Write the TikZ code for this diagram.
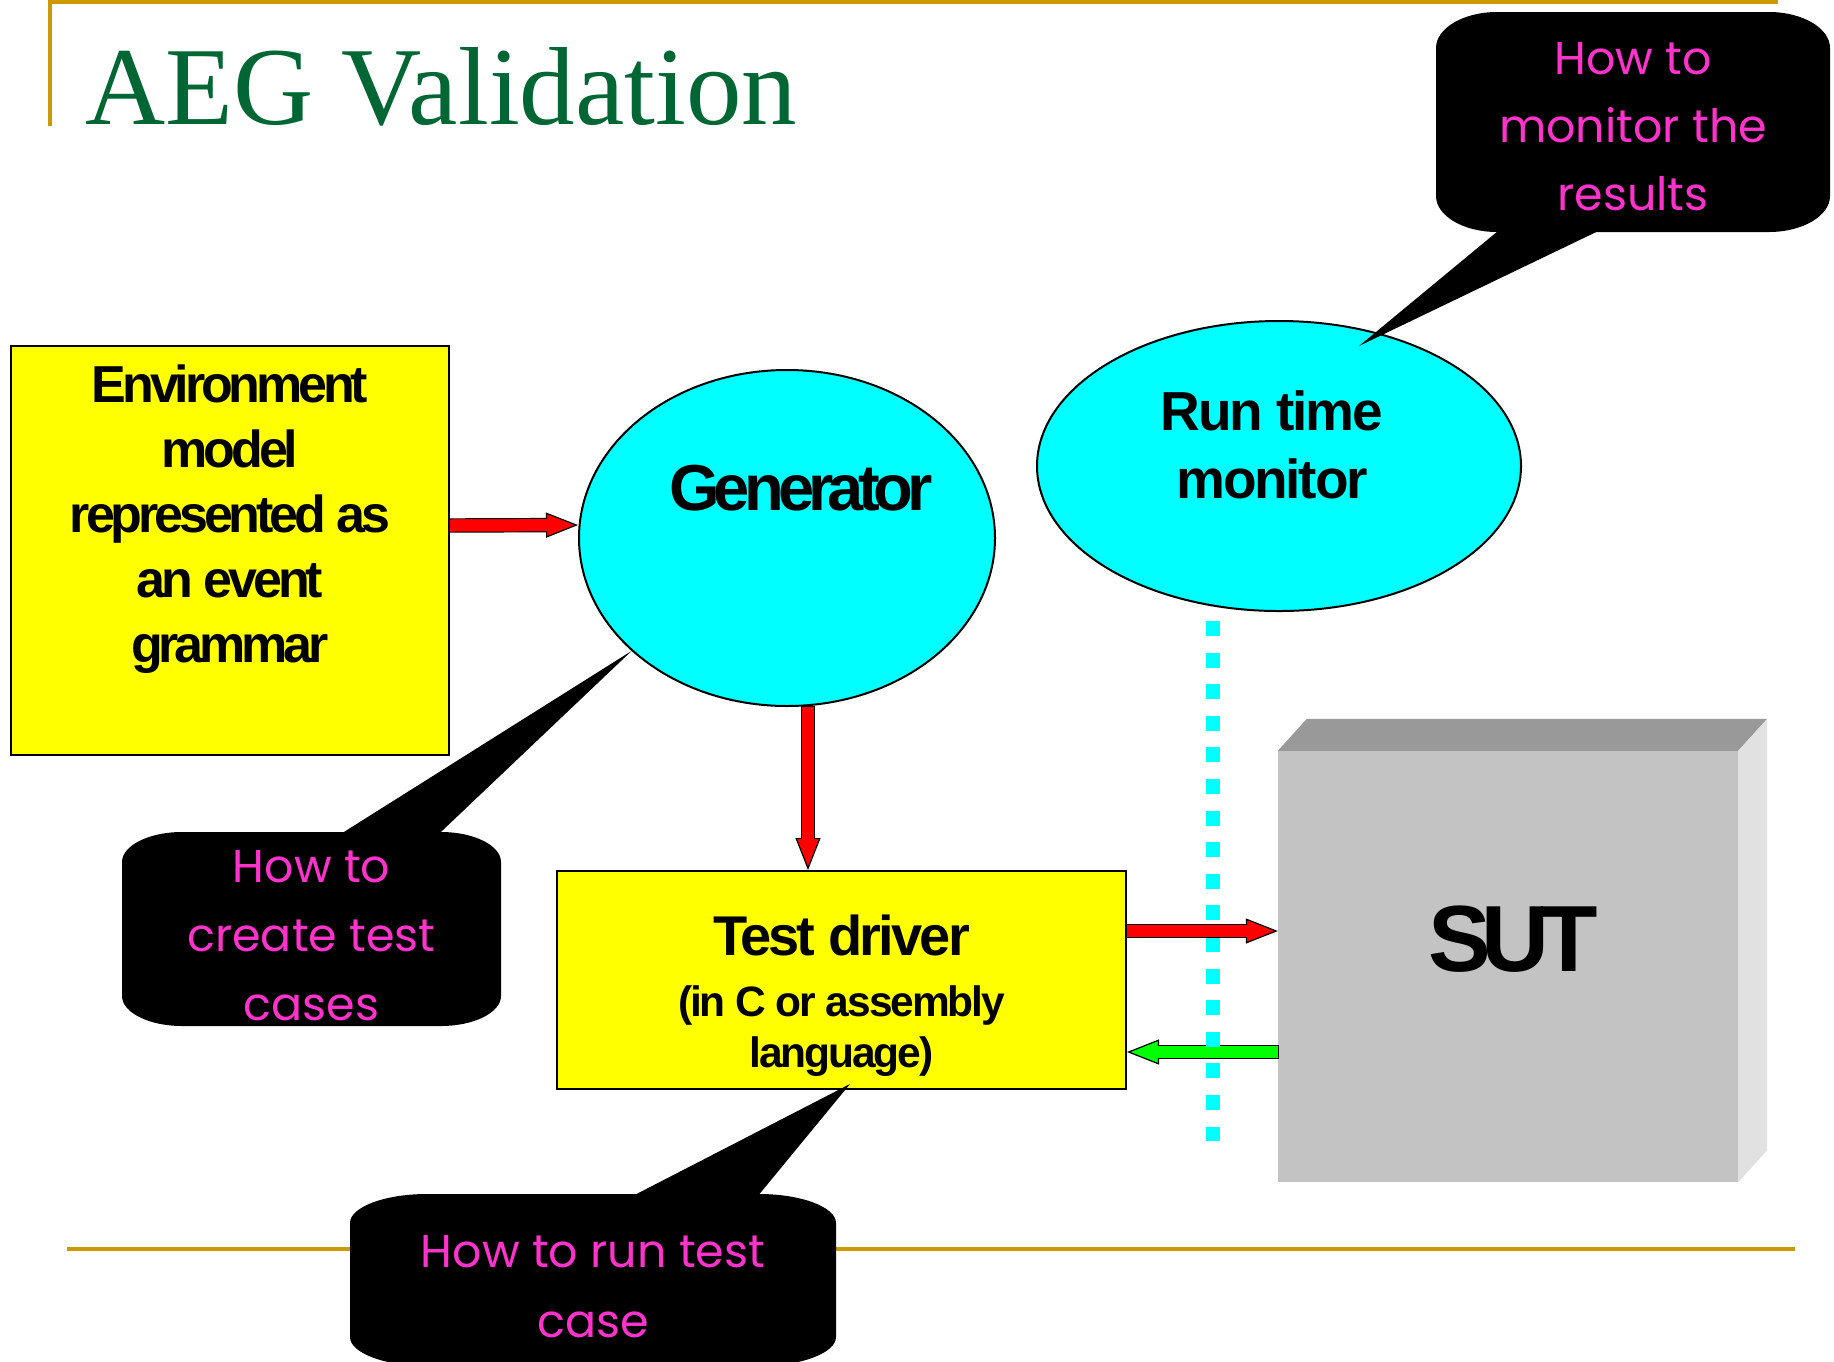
\documentclass[tikz,border=0pt]{standalone}
\usepackage{fontspec}
\setmainfont{Liberation Serif}
\newfontfamily\envfont{Liberation Sans}[LetterSpace=-8]
\newfontfamily\genfont{Liberation Sans}[LetterSpace=-9]
\newfontfamily\monfont{Liberation Sans}[LetterSpace=-4]
\newfontfamily\drvfont{Liberation Sans}[LetterSpace=-5]
\newfontfamily\sutfont{Liberation Sans}[LetterSpace=-10]
\newfontfamily\notefont{Poppins}
\usetikzlibrary{arrows.meta,calc,positioning,shapes.geometric}

\definecolor{slidegreen}{HTML}{006633}
\definecolor{slidegold}{HTML}{CC9900}
\definecolor{boxyellow}{HTML}{FFFF00}
\definecolor{blobcyan}{HTML}{00FFFF}
\definecolor{notepink}{HTML}{FF33CC}
\definecolor{sutfront}{HTML}{C3C3C3}
\definecolor{suttop}{HTML}{999999}
\definecolor{sutside}{HTML}{E1E1E1}

\begin{document}
\begin{tikzpicture}[x=1pt,y=-1pt,
	block/.style={rectangle,draw=black,line width=2pt,fill=boxyellow,inner sep=0pt,align=center},
	blob/.style={ellipse,draw=black,line width=2pt,fill=blobcyan,inner sep=0pt,align=center},
	fatarrow/.style={draw=#1,line width=12pt,
		-{Triangle[length=32pt,width=25pt,line width=1.2pt,color=black,fill=#1]},
		preaction={draw=black,line width=14.4pt,arrows=-,shorten >=30pt,shorten <=-1.2pt},
		postaction={draw=#1,line width=12pt,arrows=-,shorten >=28pt}},
	sepline/.style={blobcyan,line width=14pt,dash pattern=on 15pt off 16.6pt},
	note/.style 2 args={rectangle,inner sep=0pt,align=center,text=notepink,
		font=\notefont\fontsize{46}{68}\selectfont,
		path picture={\fill[black] let \p1=(path picture bounding box.north west),
			\p2=(path picture bounding box.south east) in
			(\x1,\y1-#2) .. controls (\x1,\y1-0.45*#2) and (\x1+0.45*#1,\y1) .. (\x1+#1,\y1)
			-- (\x2-#1,\y1) .. controls (\x2-0.45*#1,\y1) and (\x2,\y1-0.45*#2) .. (\x2,\y1-#2)
			-- (\x2,\y2+#2) .. controls (\x2,\y2+0.45*#2) and (\x2-0.45*#1,\y2) .. (\x2-#1,\y2)
			-- (\x1+#1,\y2) .. controls (\x1+0.45*#1,\y2) and (\x1,\y2+0.45*#2) .. (\x1,\y2+#2) -- cycle;}}]

	\useasboundingbox (0,0) rectangle (1834,1361);

	% slide frame and title
	\draw[slidegold,line width=4pt] (48,2) -- (1778,2);
	\draw[slidegold,line width=3.5pt] (50,0) -- (50,126);
	\draw[slidegold,line width=3.5pt] (67,1249) -- (1795,1249);
	\node[anchor=base west,inner sep=0pt,text=slidegreen,font=\fontsize{111}{111}\selectfont] (title) at (85,124) {AEG Validation};

	\node[block,minimum width=438pt,minimum height=409pt,text height=224pt,text depth=0pt,
		font=\envfont\bfseries\fontsize{52}{65}\selectfont] (env) at (230,550)
		{Environment\\model\\represented as\\an event\\grammar};
	\node[blob,minimum width=416pt,minimum height=336pt,text height=0pt,text depth=56pt,
		font=\genfont\bfseries\fontsize{65}{65}\selectfont] (gen) at (787,538) {\hspace*{28pt}Generator};
	\node[blob,minimum width=484pt,minimum height=290pt,text height=64pt,text depth=0pt,
		font=\monfont\bfseries\fontsize{55}{68}\selectfont] (mon) at (1279,466)
		{Run time\hspace*{14pt}\\monitor\hspace*{14pt}};
	\node[block,minimum width=569pt,minimum height=218pt,text height=175pt,text depth=0pt,
		font=\drvfont\bfseries\fontsize{42.5}{51}\selectfont] (drv) at (841.5,980)
		{{\fontsize{56}{56}\selectfont Test driver}\\[10.5pt](in C or assembly\\language)};

	% the system under test as a block
	\node[rectangle,fill=sutfront,inner sep=0pt,minimum width=460pt,minimum height=431pt,
		text height=9pt,text depth=0pt,font=\sutfont\bfseries\fontsize{94}{94}\selectfont] (sut) at (1508,966.5)
		{\hspace*{10pt}SUT};
	\fill[suttop] (sut.north west) -- ++(29,-32) -- ([shift={(29pt,32pt)}]sut.north east) -- (sut.north east) -- cycle;
	\fill[sutside] (sut.north east) -- ++(29,-32) -- ([shift={(29pt,32pt)}]sut.south east) -- (sut.south east) -- cycle;

	\draw[fatarrow=green] ([yshift=-72pt]drv.east -| sut.west) -- ([yshift=-72pt]drv.east);
	\draw[sepline] ([xshift=-66pt,yshift=-9pt]mon.south) -- ++(0,520);
	\draw[fatarrow=red] ([yshift=24.5pt]env.east) -- ([yshift=13pt]gen.west);
	\draw[fatarrow=red] ([xshift=21pt]gen.south) -- ([xshift=21pt]gen.south |- drv.north);
	\draw[fatarrow=red] ([yshift=49pt]drv.east) -- ([yshift=49pt]drv.east -| sut.west);

	% callouts
	\coordinate (montip) at ([shift={(80pt,120pt)}]mon.center);
	\coordinate (gentip) at (gen.216);
	\coordinate (drvtip) at ([shift={(8.5pt,6pt)}]drv.south);

	\node[note={61pt}{36pt},minimum width=394pt,minimum height=220pt,text height=177pt,text depth=0pt]
		(monnote) at (1633,122) {How to\\monitor the\\results};
	\fill ([shift={(-134pt,2pt)}]monnote.south) -- (montip) -- ([shift={(-33pt,2pt)}]monnote.south) -- cycle;

	\node[note={60pt}{30pt},minimum width=379pt,minimum height=194pt,text height=182pt,text depth=0pt,
		font=\notefont\fontsize{46}{69}\selectfont] (gennote) at (311.5,929) {How to\\create test\\cases};
	\fill ([shift={(29.5pt,-2pt)}]gennote.north) -- (gentip) -- ([shift={(127.5pt,-2pt)}]gennote.north) -- cycle;

	\node[note={77pt}{29pt},minimum width=486pt,minimum height=172pt,text height=114pt,text depth=0pt,
		font=\notefont\fontsize{46}{70}\selectfont] (drvnote) at (593,1280) {How to run test\\case};
	\fill ([shift={(40pt,-2pt)}]drvnote.north) -- (drvtip) -- ([shift={(165pt,-2pt)}]drvnote.north) -- cycle;

\end{tikzpicture}
\end{document}
